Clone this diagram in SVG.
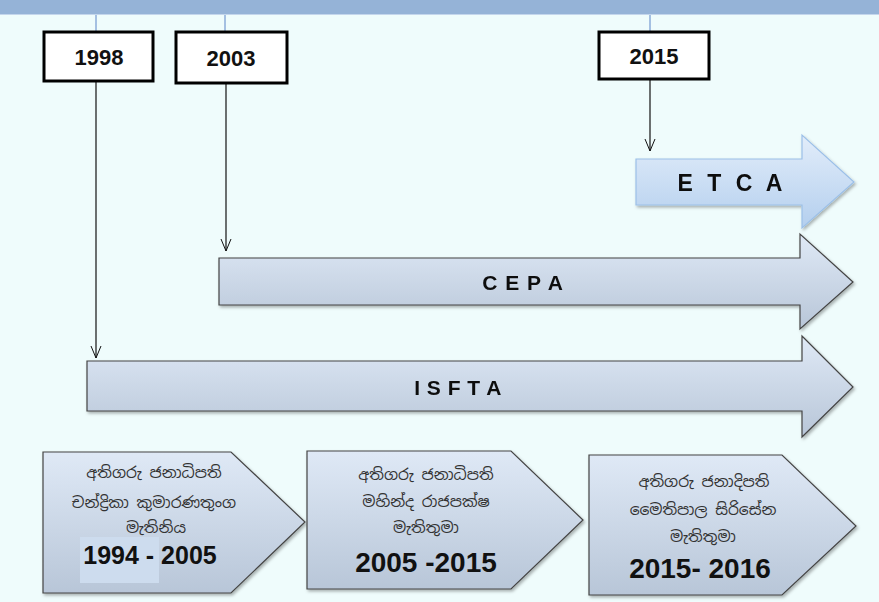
<svg xmlns="http://www.w3.org/2000/svg" width="879" height="602" viewBox="0 0 879 602">
<defs>
<linearGradient id="gBlue" x1="0" y1="0" x2="0" y2="1">
<stop offset="0" stop-color="#e2edfa"/>
<stop offset="1" stop-color="#b4cfee"/>
</linearGradient>
<linearGradient id="gGray" x1="0" y1="0" x2="0" y2="1">
<stop offset="0" stop-color="#dfe9f6"/>
<stop offset="1" stop-color="#b8c6d8"/>
</linearGradient>
<filter id="sh" x="-5%" y="-10%" width="112%" height="125%">
<feDropShadow dx="1.5" dy="2" stdDeviation="1.5" flood-color="#000" flood-opacity="0.3"/>
</filter>
<marker id="arr" markerWidth="14" markerHeight="12" refX="13" refY="6" orient="auto" markerUnits="userSpaceOnUse" viewBox="0 0 14 12">
<polyline points="1,1 13,6 1,11" fill="none" stroke="#111" stroke-width="1"/>
</marker>
<style>
.yr{fill:#fff;stroke:#000;stroke-width:3}
.yt{font-family:"Liberation Sans",Arial,sans-serif;font-weight:bold;font-size:22px;fill:#111;text-anchor:middle}
.lbl{font-family:"Liberation Sans",Arial,sans-serif;font-weight:bold;fill:#111;text-anchor:middle}
.si{font-family:"Noto Sans Sinhala","Iskoola Pota","Noto Sans",sans-serif;font-size:15.5px;fill:#333;text-anchor:middle}
.big{font-family:"Liberation Sans",Arial,sans-serif;font-weight:bold;fill:#111;text-anchor:middle}
.pent{fill:url(#gGray);stroke:#444;stroke-width:1.2}
.conn{stroke:#111;stroke-width:1.2;fill:none}
.tick{stroke:#5b84c8;stroke-width:1}
</style>
</defs>
<rect x="0" y="0" width="879" height="602" fill="#effcfc"/>
<rect x="0" y="0" width="879" height="14" fill="#95b3d7"/>
<line x1="0" y1="14.5" x2="879" y2="14.5" stroke="#c4d6ec" stroke-width="1"/>
<g id="ticks">
<line class="tick" x1="96" y1="15" x2="96" y2="31"/>
<line class="tick" x1="225" y1="15" x2="225" y2="31"/>
<line class="tick" x1="650" y1="15" x2="650" y2="31"/>
</g>
<g id="isfta" filter="url(#sh)">
<polygon points="87,361 802,361 802,336 853,387 802,437 802,411 87,411" fill="url(#gGray)" stroke="#444" stroke-width="1.2"/>
<text class="lbl" x="458" y="395" font-size="21" letter-spacing="0.5">I S F T A</text>
</g>
<g id="cepa" filter="url(#sh)">
<polygon points="219,258 800,258 800,234 853,282 800,329 800,305 219,305" fill="url(#gGray)" stroke="#444" stroke-width="1.2"/>
<text class="lbl" x="523" y="290" font-size="21" letter-spacing="1">C E P A</text>
</g>
<g id="etca" filter="url(#sh)">
<polygon points="636,159 802,159 802,135 854,182 802,228 802,205 636,205" fill="url(#gBlue)" stroke="#9cc0e8" stroke-width="1.2"/>
<text class="lbl" x="732" y="191" font-size="23" letter-spacing="4">E T C A</text>
</g>
<g id="connectors">
<line class="conn" x1="96" y1="81" x2="96" y2="358" marker-end="url(#arr)"/>
<line class="conn" x1="226" y1="83" x2="226" y2="251" marker-end="url(#arr)"/>
<line class="conn" x1="650" y1="79" x2="650" y2="151" marker-end="url(#arr)"/>
</g>
<g id="y1998">
<rect class="yr" x="44" y="32" width="109" height="49"/>
<text class="yt" x="99" y="65">1998</text>
</g>
<g id="y2003">
<rect class="yr" x="176" y="32" width="111" height="51"/>
<text class="yt" x="231" y="66">2003</text>
</g>
<g id="y2015">
<rect class="yr" x="599" y="32" width="110" height="47"/>
<text class="yt" x="654" y="64">2015</text>
</g>
<g id="p1">
<polygon class="pent" filter="url(#sh)" points="43,452 231,452 305,522 231,593 43,593"/>
<rect x="80" y="537" width="79" height="46" fill="#cddcee"/>
<text class="si" x="154" y="478">අතිගරු ජනාධිපති</text>
<text class="si" x="154" y="508">චන්ද්‍රිකා කුමාරණතුංග</text>
<text class="si" x="156" y="533">මැතිනිය</text>
<text class="big" x="150" y="564" font-size="25">1994 - 2005</text>
</g>
<g id="p2">
<polygon class="pent" filter="url(#sh)" points="307,451 511,451 583,520 511,589 307,589"/>
<text class="si" x="426" y="480">අතිගරු ජනාධිපති</text>
<text class="si" x="426" y="507">මහින්ද රාජපක්ෂ</text>
<text class="si" x="426" y="533">මැතිතුමා</text>
<text class="big" x="426" y="572" font-size="28">2005 -2015</text>
</g>
<g id="p3">
<polygon class="pent" filter="url(#sh)" points="589,455 782,455 856,526 782,595 589,595"/>
<text class="si" x="704" y="487">අතිගරු ජනාදිපති</text>
<text class="si" x="703" y="515">මෛතිපාල සිරිසේන</text>
<text class="si" x="703" y="542">මැතිතුමා</text>
<text class="big" x="700" y="578" font-size="28">2015- 2016</text>
</g>
</svg>
